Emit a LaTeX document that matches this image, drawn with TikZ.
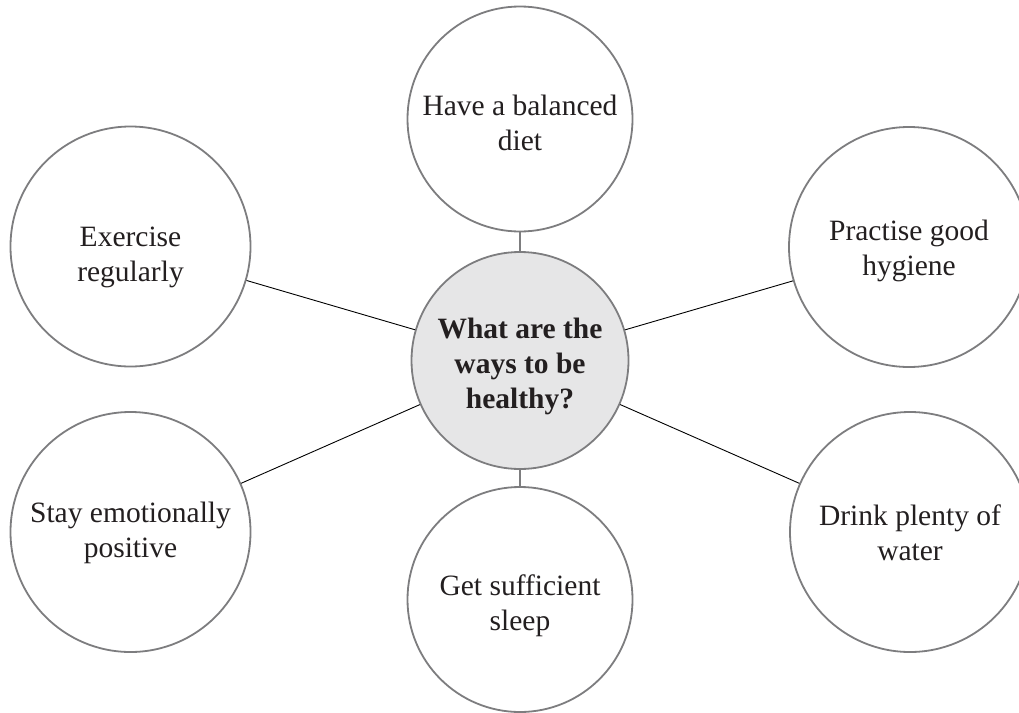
\documentclass[tikz,border=0pt]{standalone}
\usepackage{fontspec}
\setmainfont{Liberation Serif}
\definecolor{ringgray}{HTML}{7D7D7F}
\definecolor{hubfill}{HTML}{E6E6E7}
\definecolor{inktext}{HTML}{231F20}
\begin{document}
\begin{tikzpicture}[x=1pt,y=-1pt,
  ring/.style={circle, draw=ringgray, line width=1.8pt, fill=white, inner sep=0pt},
  hubring/.style={ring, fill=hubfill},
  words/.style={inner sep=0pt, align=center, text=inktext,
    font=\fontsize{29.5}{35}\selectfont},
  hubwords/.style={words, font=\fontsize{29.5}{35}\selectfont\bfseries},
  spoke/.style={draw=black, line width=0.9pt},
  stem/.style={draw=ringgray, line width=1.8pt}]
\useasboundingbox (0,0) rectangle (1019,712);
\begin{scope}
\clip (0,0) rectangle (1019,712);
% circles: central question and the six ideas around it
\node[hubring, minimum size=217pt] (hub) at (520,360.5) {};
\node[ring, minimum size=225pt] (diet) at (520,119) {};
\node[ring, minimum size=225pt] (sleep) at (520,599.5) {};
\node[ring, minimum size=240pt] (exercise) at (130.5,246.5) {};
\node[ring, minimum size=240pt] (mood) at (130.5,532) {};
\node[ring, minimum size=240pt] (hygiene) at (909,247) {};
\node[ring, minimum size=240pt] (water) at (910,532) {};
% connectors
\draw[stem] (hub) -- (diet);
\draw[stem] (hub) -- (sleep);
\draw[spoke] (hub) -- (exercise);
\draw[spoke] (hub) -- (mood);
\draw[spoke] (hub) -- (hygiene);
\draw[spoke] (hub) -- (water);
% texts, set a little below each circle's centre
\node[hubwords] (hub-t) at ([yshift=-5.75pt]hub.center) {What are the\\ways to be\\healthy?};
\node[words] (diet-t) at ([yshift=-3.6pt]diet.center) {Have a balanced\\diet};
\node[words] (sleep-t) at ([yshift=-6.2pt]sleep.center) {Get sufficient\\sleep};
\node[words] (exercise-t) at ([yshift=-11.3pt]exercise.center) {Exercise\\regularly};
\node[words] (mood-t) at ([yshift=-0.8pt]mood.center) {Stay emotionally\\positive};
\node[words] (hygiene-t) at ([yshift=-3.8pt]hygiene.center) {Practise good\\hygiene};
\node[words] (water-t) at ([yshift=-0.6pt]water.center) {Drink plenty of\\water};
\end{scope}
\end{tikzpicture}
\end{document}
